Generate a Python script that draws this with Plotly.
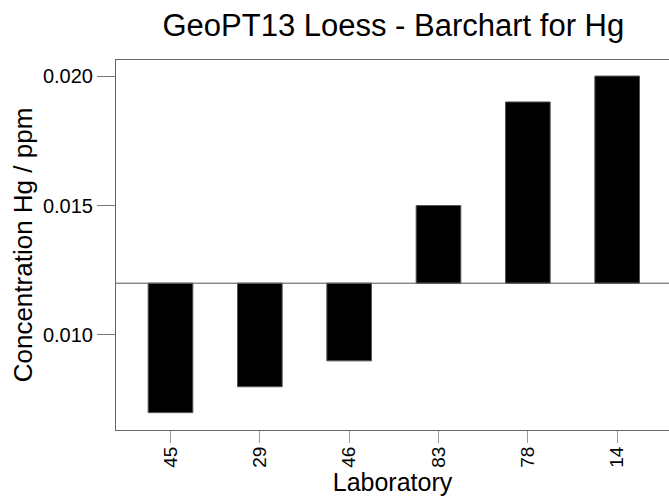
import plotly.graph_objects as go

labs = ["45", "29", "46", "83", "78", "14"]
values = [0.007, 0.008, 0.009, 0.015, 0.019, 0.020]
baseline = 0.012
y_ticks = [0.010, 0.015, 0.020]

FONT = "Liberation Sans, Arial, sans-serif"

fig = go.Figure()
fig.add_trace(go.Bar(
    x=list(range(len(labs))),
    y=[v - baseline for v in values],
    base=baseline,
    width=0.5,
    marker=dict(color="black", line=dict(color="#555555", width=1)),
    showlegend=False,
    hoverinfo="skip",
))

fig.add_shape(type="line", xref="paper", x0=0, x1=1, yref="y", y0=baseline, y1=baseline,
              line=dict(color="#555555", width=1), layer="above")

fig.update_layout(
    width=669, height=499,
    margin=dict(l=116, r=0, t=60, b=69),
    plot_bgcolor="white", paper_bgcolor="white",
    font=dict(family=FONT, color="black"),
    title=dict(text="GeoPT13 Loess - Barchart for Hg", x=0.588, xanchor="center",
               y=0.949, yanchor="middle", yref="container",
               font=dict(size=31, family=FONT, color="black")),
    xaxis=dict(
        range=[-0.61, 5.58],
        tickmode="array", tickvals=list(range(len(labs))), ticktext=labs,
        tickangle=-90, ticks="outside", ticklen=12, tickcolor="#999999",
        ticklabelstandoff=-4,
        tickfont=dict(size=19, family=FONT, color="black"),
        showline=True, linecolor="#666666", linewidth=1, mirror=True,
        showgrid=False, zeroline=False,
        title=dict(text="Laboratory", font=dict(size=25, family=FONT, color="black"), standoff=2),
        automargin=False,
    ),
    yaxis=dict(
        range=[0.00633, 0.02062],
        tickmode="array", tickvals=y_ticks, ticktext=[f"{t:.3f}" for t in y_ticks],
        ticks="outside", ticklen=18, tickcolor="#777777",
        tickfont=dict(size=20, family=FONT, color="black"),
        showline=True, linecolor="#666666", linewidth=1,
        showgrid=False, zeroline=False,
        title=dict(text="Concentration Hg / ppm", font=dict(size=26, family=FONT, color="black"), standoff=2),
        automargin=False,
    ),
)

fig.write_html("out.html")
